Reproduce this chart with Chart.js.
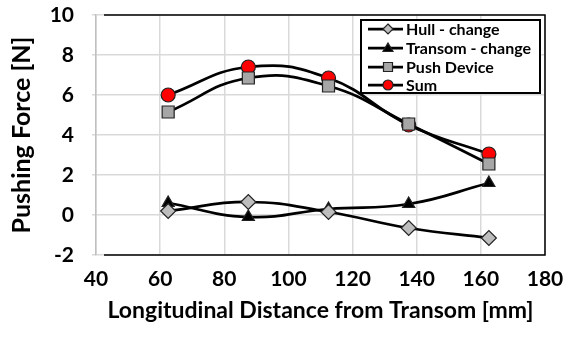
<!DOCTYPE html>
<html lang="en">
    <head>
        <meta charset="UTF-8" />
        <title>Pushing Force</title>
        <script src="https://cdn.jsdelivr.net/npm/chart.js"></script>
        <style>
            body { margin: 0; background: #fff; }
            #wrap { width: 565px; height: 338px; }
        </style>
    </head>
    <body>
        <div id="wrap"><canvas id="chart"></canvas></div>
        <script>
            const distance = [62.5, 87.5, 112.5, 137.5, 162.5];
            const hullChange = [0.2, 0.65, 0.15, -0.65, -1.15];
            const transomChange = [0.6, -0.1, 0.3, 0.55, 1.6];
            const pushDevice = [5.15, 6.85, 6.45, 4.55, 2.55];
            const sum = [6.0, 7.4, 6.85, 4.5, 3.05];

            const FONT = "Lato, 'Open Sans', sans-serif";

            function pts(ys) {
                return distance.map((x, i) => ({ x: x, y: ys[i] }));
            }

            function series(label, ys, style, fill, radius) {
                return {
                    label: label,
                    data: pts(ys),
                    borderColor: "#000",
                    borderWidth: 2.75,
                    tension: 0.45,
                    pointStyle: style,
                    pointRadius: radius,
                    pointBackgroundColor: fill,
                    pointBorderColor: "#222",
                    pointBorderWidth: 1.2,
                };
            }

            // frame around the plot area and the boxed legend
            const framePlugin = {
                id: "frame",
                beforeDatasetsDraw(chart) {
                    const a = chart.chartArea;
                    const c = chart.ctx;
                    c.save();
                    c.strokeStyle = "#000";
                    c.lineWidth = 1.5;
                    c.beginPath();
                    c.moveTo(a.left + 8, a.top);
                    c.lineTo(a.right, a.top);
                    c.lineTo(a.right, a.bottom);
                    c.lineTo(a.left + 8, a.bottom);
                    c.stroke();
                    c.restore();
                },
                afterDatasetsDraw(chart) {
                    const c = chart.ctx;
                    const bx = 361, by = 20, bw = 179, bh = 73;
                    c.save();
                    c.fillStyle = "#fff";
                    c.fillRect(bx, by, bw, bh);
                    c.strokeStyle = "#000";
                    c.lineWidth = 2;
                    c.strokeRect(bx, by, bw, bh);
                    const rows = [29, 48, 67, 85];
                    chart.data.datasets.forEach((ds, i) => {
                        const y = rows[i];
                        c.strokeStyle = "#000";
                        c.lineWidth = 2.75;
                        c.beginPath();
                        c.moveTo(368, y);
                        c.lineTo(403, y);
                        c.stroke();
                        c.fillStyle = ds.pointBackgroundColor;
                        c.strokeStyle = ds.pointBorderColor;
                        c.lineWidth = 1.2;
                        c.beginPath();
                        drawMarker(c, ds.pointStyle, 388, y, 5);
                        c.fill();
                        c.stroke();
                        c.fillStyle = "#000";
                        c.font = "bold 16px " + FONT;
                        c.textBaseline = "middle";
                        c.textAlign = "left";
                        c.fillText(ds.label, 406, y + 1);
                    });
                    c.restore();
                },
            };

            function drawMarker(c, style, x, y, r) {
                if (style === "rectRot") {
                    c.moveTo(x, y - r); c.lineTo(x + r, y); c.lineTo(x, y + r); c.lineTo(x - r, y); c.closePath();
                } else if (style === "triangle") {
                    c.moveTo(x, y - r); c.lineTo(x + r, y + r * 0.7); c.lineTo(x - r, y + r * 0.7); c.closePath();
                } else if (style === "rect") {
                    c.rect(x - r * 0.9, y - r * 0.9, r * 1.8, r * 1.8);
                } else {
                    c.arc(x, y, r, 0, Math.PI * 2);
                }
            }

            new Chart(document.getElementById("chart"), {
                type: "line",
                data: {
                    datasets: [
                        series("Hull - change", hullChange, "rectRot", "#bdbdbd", 7.5),
                        series("Transom - change", transomChange, "triangle", "#000", 7),
                        series("Push Device", pushDevice, "rect", "#a6a6a6", 8.5),
                        series("Sum", sum, "circle", "#ff0000", 7),
                    ],
                },
                options: {
                    responsive: true,
                    maintainAspectRatio: false,
                    animation: false,
                    layout: { padding: { top: 15, right: 20, bottom: 14, left: 7 } },
                    plugins: { legend: { display: false }, tooltip: { enabled: false } },
                    scales: {
                        x: {
                            type: "linear",
                            min: 40,
                            max: 180,
                            ticks: { stepSize: 20, color: "#000", font: { family: FONT, size: 21, weight: "bold" }, padding: 12 },
                            grid: { color: "#d9d9d9", lineWidth: 1.5, drawTicks: false },
                            border: { display: false },
                            afterFit(scale) {
                                scale.height = 69;
                                scale.paddingLeft = 0;
                                scale.paddingRight = 0;
                            },
                            title: {
                                display: true,
                                text: "Longitudinal Distance from Transom [mm]",
                                color: "#000",
                                font: { family: FONT, size: 23, weight: "bold" },
                                padding: { top: 0, bottom: 0 },
                            },
                        },
                        y: {
                            min: -2,
                            max: 10,
                            ticks: { stepSize: 2, color: "#000", font: { family: FONT, size: 21, weight: "bold" }, padding: 18 },
                            grid: { color: "#d9d9d9", lineWidth: 1.5, tickLength: 4 },
                            border: { color: "#bfbfbf", width: 1.5 },
                            afterFit(scale) {
                                scale.width = 89;
                                scale.paddingTop = 0;
                                scale.paddingBottom = 0;
                            },
                            title: {
                                display: true,
                                text: "Pushing Force [N]",
                                color: "#000",
                                font: { family: FONT, size: 25, weight: "bold" },
                                padding: { top: 0, bottom: 0 },
                            },
                        },
                    },
                },
                plugins: [framePlugin],
            });
        </script>
    </body>
</html>
